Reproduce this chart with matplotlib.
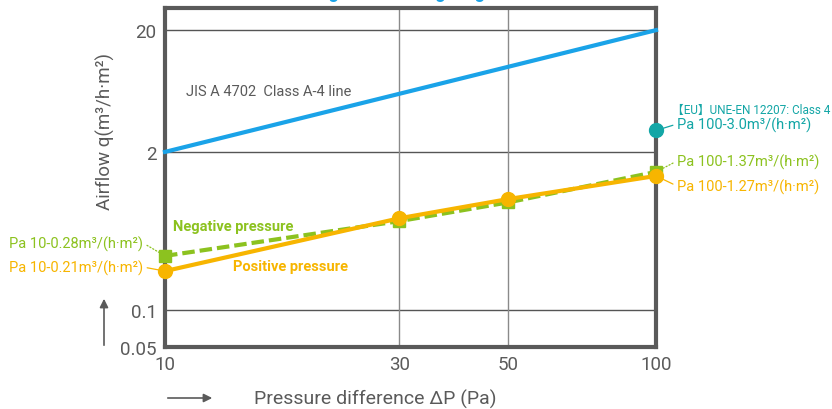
import matplotlib

matplotlib.use("Agg")
import matplotlib.pyplot as plt
from matplotlib.ticker import FixedLocator, NullLocator

plt.rcParams["font.family"] = ["Roboto", "Noto Sans CJK JP", "DejaVu Sans"]

# pressure difference (Pa)
pressure = [10, 30, 50, 100]
# JIS A 4702 class A-4 line
jis_x = [10, 100]
jis_y = [2, 20]
# measured airflow (m3/h.m2)
positive = [0.21, 0.57, 0.82, 1.27]
negative = [0.28, 0.54, 0.77, 1.37]
eu_x, eu_y = 100, 3.0

xticks = [10, 30, 50, 100]
yticks = [0.05, 0.1, 2, 20]
ytick_labels = ["0.05", "0.1", "2", "20"]

BLUE = "#1aa3e8"
ORANGE = "#f7b500"
GREEN = "#8cc21f"
TEAL = "#13a6a6"
GRAY = "#5a5a5a"

W, H = 832, 410
fig = plt.figure(figsize=(W / 100, H / 100), dpi=100)
ax = fig.add_axes([165 / W, 1 - 348 / H, (656 - 165) / W, (348 - 9) / H])
ax.set_xscale("log")
ax.set_yscale("log")
ax.set_xlim(10, 100)
ax.set_ylim(0.05, 30.4)

ax.xaxis.set_major_locator(FixedLocator(xticks))
ax.xaxis.set_minor_locator(NullLocator())
ax.set_xticklabels([str(t) for t in xticks])
ax.yaxis.set_major_locator(FixedLocator(yticks))
ax.yaxis.set_minor_locator(NullLocator())
ax.set_yticklabels(ytick_labels)
ax.tick_params(length=0, labelsize=13.5, labelcolor=GRAY, pad=6)

for y in [0.1, 2, 20]:
    ax.axhline(y, color="#555555", lw=1, zorder=1)
for x in [30, 50]:
    ax.axvline(x, color="#8a8a8a", lw=1, zorder=1)

for s in ax.spines.values():
    s.set_linewidth(3)
    s.set_color(GRAY)

ax.plot(jis_x, jis_y, color=BLUE, lw=3, zorder=3, clip_on=False)
ax.plot(pressure, negative, color=GREEN, lw=3, ls=(0, (3, 1.2)), marker="s",
        ms=9, zorder=4, clip_on=False)
ax.plot(pressure, positive, color=ORANGE, lw=3, marker="o", ms=10,
        zorder=5, clip_on=False)
ax.plot([eu_x], [eu_y], color=TEAL, marker="o", ms=10, zorder=5, clip_on=False)

fs = 10.5
ax.text(186 / W, 1 - 92 / H, "JIS A 4702  Class A-4 line", transform=fig.transFigure,
        color=GRAY, fontsize=fs, ha="left", va="center")
ax.text(173 / W, 1 - 227 / H, "Negative pressure", transform=fig.transFigure,
        color=GREEN, fontsize=fs, fontweight="bold", ha="left", va="center")
ax.text(233 / W, 1 - 267 / H, "Positive pressure", transform=fig.transFigure,
        color=ORANGE, fontsize=fs, fontweight="bold", ha="left", va="center")

# EU standard heading, shrunk to fit the right margin
r = fig.canvas.get_renderer()
eu = fig.text(672 / W, 1 - 110 / H, "【EU】UNE-EN 12207: Class 4", color=TEAL,
              fontsize=10, ha="left", va="center")
eu.set_fontsize(10 * (W - 2 - 672) / eu.get_window_extent(r).width)


def label(xy, text, pos, color, ls="-", ha="left"):
    ax.annotate(text, xy=xy, xytext=(pos[0], H - pos[1]),
                textcoords="figure pixels", color=color, fontsize=fs,
                ha=ha, va="center", annotation_clip=False,
                arrowprops=dict(arrowstyle="-", color=color, lw=0.9, ls=ls,
                                relpos=(0 if ha == "left" else 1, 0.5),
                                shrinkA=1, shrinkB=5))


label((eu_x, eu_y), "Pa 100-3.0m³/(h·m²)", (677, 125), TEAL)
label((pressure[-1], negative[-1]), "Pa 100-1.37m³/(h·m²)", (677, 162), GREEN, ls=":")
label((pressure[-1], positive[-1]), "Pa 100-1.27m³/(h·m²)", (677, 187), ORANGE)
label((pressure[0], negative[0]), "Pa 10-0.28m³/(h·m²)", (143, 244), GREEN, ls=":", ha="right")
label((pressure[0], positive[0]), "Pa 10-0.21m³/(h·m²)", (143, 268), ORANGE, ha="right")

fig.text(105 / W, 1 - 132 / H, "Airflow q(m³/h·m²)", rotation=90, color=GRAY,
         fontsize=13.5, ha="center", va="center")
fig.text(375 / W, 1 - 399 / H, "Pressure difference ΔP (Pa)", color=GRAY,
         fontsize=14, ha="center", va="center")

# axis direction arrows
fig.add_artist(matplotlib.patches.FancyArrowPatch(
    (104 / W, 1 - 349 / H), (104 / W, 1 - 297 / H), transform=fig.transFigure,
    arrowstyle="-|>,head_length=5,head_width=2.5", color=GRAY, lw=1.2))
fig.add_artist(matplotlib.patches.FancyArrowPatch(
    (165 / W, 1 - 399 / H), (215 / W, 1 - 399 / H), transform=fig.transFigure,
    arrowstyle="-|>,head_length=5,head_width=2.5", color=GRAY, lw=1.2))

# title, cut off by the top edge in the original (only descenders visible)
fig.text(405 / W, 1 + 1.5 / H, "Airtightness rating diagram", color=BLUE,
         fontsize=13, fontweight="bold", ha="center", va="baseline")

fig.savefig("out.png", dpi=100)
